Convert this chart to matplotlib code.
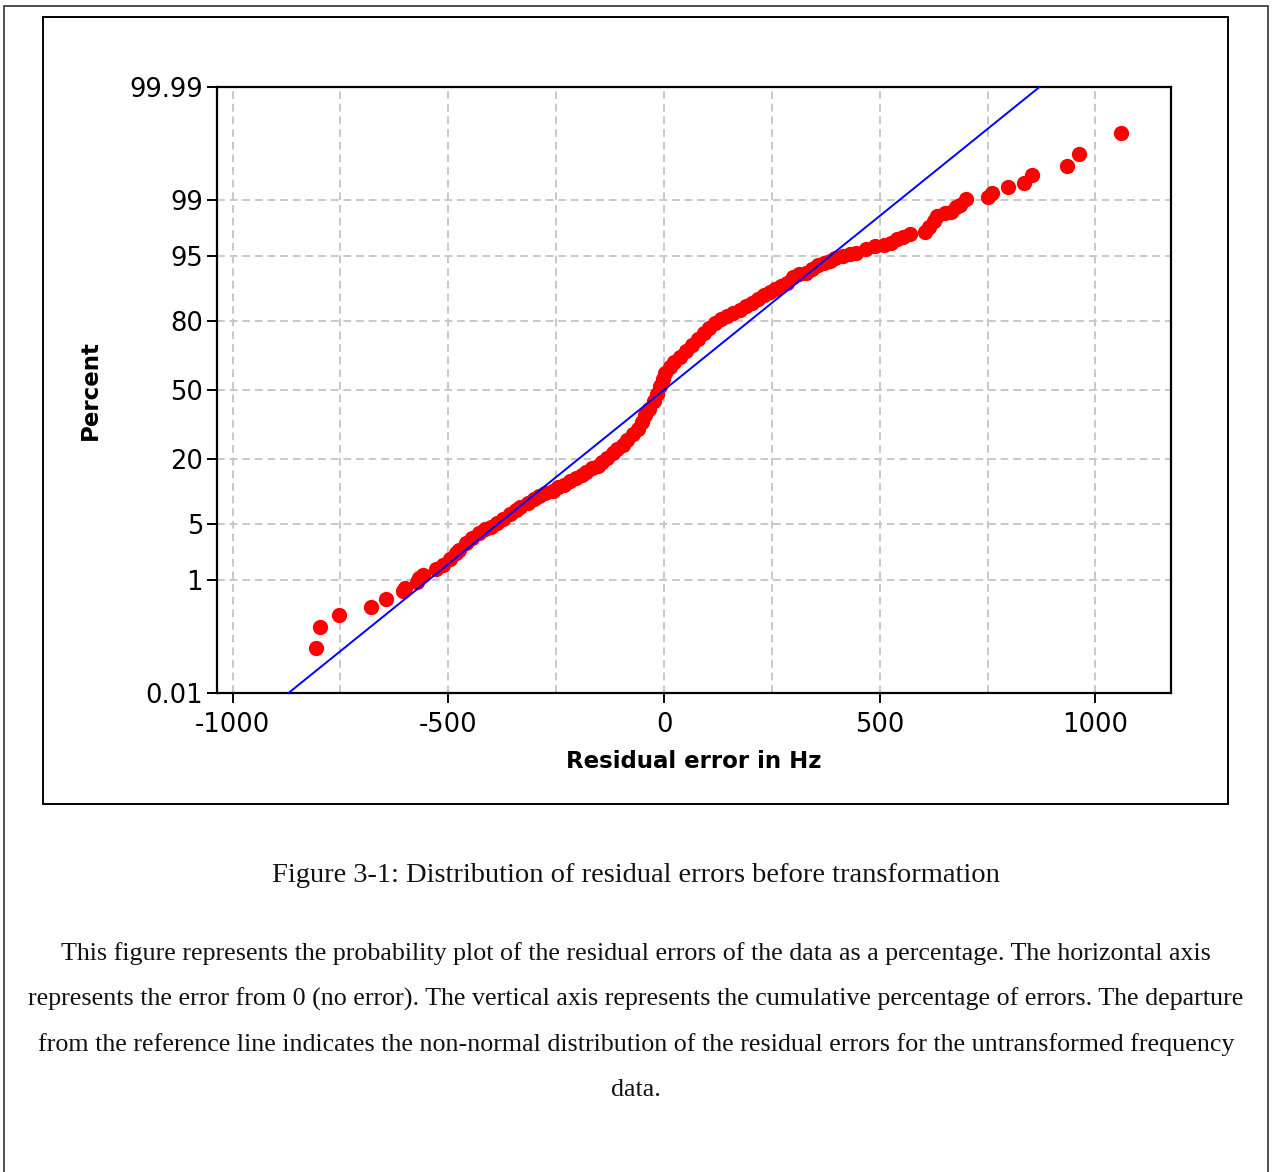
#!/usr/bin/env python
# coding: utf-8

import math
import numpy as np
import matplotlib
matplotlib.use('Agg')
import matplotlib.pyplot as plt
from matplotlib.patches import Rectangle

plt.rcParams['figure.figsize'] = 12.73, 11.72
plt.rcParams['font.family'] = 'DejaVu Sans'
plt.rcParams['axes.unicode_minus'] = False

fig_name = "out.png"

##################### DATA ################################################################

# residual error (Hz), sorted, and the cumulative percent at which each one sits
residual = [-806, -797, -754, -678, -644, -605, -601, -572, -567, -559,
            -528, -513, -497, -483, -474, -460, -444, -428, -414, -402,
            -388, -374, -358, -344, -333, -316, -302, -289, -275, -258,
            -245, -231, -219, -205, -191, -180, -166, -154, -143, -131,
            -119, -108, -96, -85, -73, -61, -52, -43, -34, -24,
            -17, -10, -3, 3, 13, 24, 36, 50, 64, 78,
            92, 105, 119, 133, 147, 161, 175, 189, 203, 217,
            231, 245, 258, 272, 286, 300, 314, 328, 342, 356,
            370, 384, 397, 414, 430, 446, 467, 490, 509, 525,
            541, 555, 571, 606, 615, 625, 632, 652, 664, 676,
            685, 699, 750, 761, 798, 835, 854, 935, 961, 1060]

percent = [0.076, 0.179, 0.29, 0.39, 0.52, 0.69, 0.76, 0.93, 1.06, 1.14,
           1.38, 1.61, 1.93, 2.24, 2.51, 2.98, 3.42, 3.91, 4.35, 4.58,
           5.07, 5.60, 6.34, 6.97, 7.48, 8.2, 8.98, 9.6, 10.2, 10.7,
           11.6, 12.3, 13.1, 13.9, 14.8, 15.6, 16.8, 17.5, 18.8, 20.1,
           21.9, 23.4, 24.9, 26.9, 29.4, 31.6, 34.7, 37.9, 40.7, 44.6,
           48.0, 52.0, 55.4, 58.3, 61.1, 63.5, 65.8, 68.4, 71.0, 73.5,
           75.9, 77.7, 79.5, 80.9, 81.9, 82.8, 83.8, 84.9, 85.8, 86.9,
           87.9, 88.6, 89.3, 90.0, 90.6, 91.8, 92.2, 92.5, 93.2, 93.7,
           94.1, 94.4, 94.7, 95.05, 95.3, 95.4, 95.8, 96.1, 96.2, 96.4,
           96.8, 97.0, 97.26, 97.34, 97.76, 98.07, 98.35, 98.49, 98.54, 98.75,
           98.86, 99.04, 99.10, 99.21, 99.36, 99.44, 99.58, 99.70, 99.81, 99.92]

# fitted normal reference line
ref_mean = 0.0
ref_sd = 234.0
ref_pct = [0.01, 99.99]

y_ticks = [0.01, 1, 5, 20, 50, 80, 95, 99, 99.99]
y_tick_labels = ['0.01', '1', '5', '20', '50', '80', '95', '99', '99.99']
x_ticks = [-1000, -500, 0, 500, 1000]
x_minor = [-750, -250, 250, 750]

caption = "Figure 3-1: Distribution of residual errors before transformation"
paragraph = ["This figure represents the probability plot of the residual errors of the data as a percentage. The horizontal axis",
             "represents the error from 0 (no error). The vertical axis represents the cumulative percentage of errors. The departure",
             "from the reference line indicates the non-normal distribution of the residual errors for the untransformed frequency",
             "data."]

########################### NORMAL PROBABILITY SCALE ###################################

_z = np.linspace(-6, 6, 24001)
_cdf = 0.5 * (1 + np.vectorize(math.erf)(_z / math.sqrt(2)))

def pct_to_z(p):
    return np.interp(np.asarray(p, dtype=float) / 100.0, _cdf, _z)

def z_to_pct(z):
    return 100.0 * np.interp(np.asarray(z, dtype=float), _z, _cdf)

########################### PLOT CONFIGURATION ###################################

fig = plt.figure(dpi=100)
mainPlot = fig.add_axes([217/1273, 1-693/1172, (1171-217)/1273, (693-87)/1172])
mainPlot.set_yscale('function', functions=(pct_to_z, z_to_pct))

mainPlot.plot(residual, percent, 'o', color='#ff0000', ms=11, mec='none', zorder=3)

ref_x = ref_mean + ref_sd * pct_to_z(ref_pct)
mainPlot.plot(ref_x, ref_pct, color='#0000ff', lw=1.4, zorder=4, clip_on=False)

mainPlot.set_xlim([-1036, 1175])
mainPlot.set_ylim([0.01, 99.99])
mainPlot.set_xticks(x_ticks)
mainPlot.set_xticks(x_minor, minor=True)
mainPlot.set_xticklabels([str(v) for v in x_ticks])
mainPlot.set_yticks(y_ticks)
mainPlot.set_yticklabels(y_tick_labels)
mainPlot.yaxis.set_minor_locator(matplotlib.ticker.NullLocator())

mainPlot.grid(True, which='both', axis='x', color='#c8c8c8', ls=(0, (4, 2.5)), lw=1.4)
mainPlot.grid(True, which='major', axis='y', color='#c8c8c8', ls=(0, (4, 2.5)), lw=1.4)
mainPlot.set_axisbelow(True)

mainPlot.tick_params(axis='both', which='major', direction='out', length=7, width=1.4,
                     labelsize=18.5, pad=3)
mainPlot.tick_params(axis='x', which='major', pad=6.5)
mainPlot.tick_params(axis='x', which='minor', length=0)
for s in mainPlot.spines.values():
    s.set_linewidth(1.6)

mainPlot.set_xlabel('Residual error in Hz', fontsize=16.5, fontweight='bold', labelpad=9)
mainPlot.set_ylabel('Percent', fontsize=16.5, fontweight='bold', labelpad=20)

########################### FRAMES AND CAPTION ###################################

fig.patches.append(Rectangle((4/1273, -0.01), (1268-4)/1273, 1.01-6/1172, transform=fig.transFigure,
                             fill=False, ec='#404040', lw=1.3))
fig.patches.append(Rectangle((42.5/1273, 1-804/1172), (1227.5-42.5)/1273, (804-16.5)/1172,
                             transform=fig.transFigure, fill=False, ec='black', lw=1.4))

fig.text(636/1273, 1-875/1172, caption, ha='center', va='center', fontsize=20.5,
         family='Liberation Serif', color='#111111')
for i, line in enumerate(paragraph):
    fig.text(636/1273, 1-(954+45.3*i)/1172, line, ha='center', va='center', fontsize=18.7,
             family='Liberation Serif', color='#111111')

############################ OUTPUT SETTINGS ########################################
plt.savefig(fig_name, dpi=100, facecolor='w')
